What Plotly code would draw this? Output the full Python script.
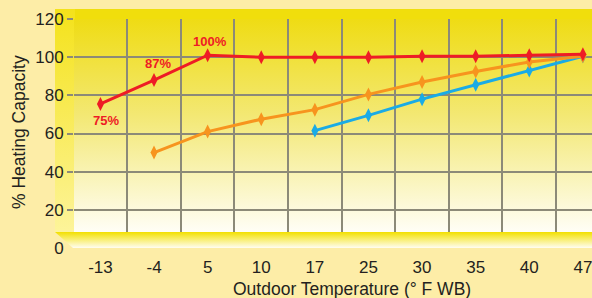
import base64
import plotly.graph_objects as go

# ---- data ----
temps = ["-13", "-4", "5", "10", "17", "25", "30", "35", "40", "47"]
red_vals = [75.5, 88, 101, 100, 100, 100, 100.5, 100.5, 101, 101.5]
orange_vals = [None, 50, 61, 67.5, 72.5, 80.5, 87, 92.5, 97.5, 100.5]
blue_vals = [None, None, None, None, 61.5, 69.5, 78, 85.5, 93, 100.5]
red_labels = ["75%", "87%", "100%"]
y_ticks = [0, 20, 40, 60, 80, 100, 120]

RED = "#EE1C25"
ORANGE = "#F7941E"
BLUE = "#1AABE6"
GRID = "#8C8A78"
TXT = "#231F20"
FONT = "Liberation Sans, Arial, sans-serif"

W, H = 592, 298
L, R, T, B = 74, 0, 19, 50
PW, PH = W - L - R, H - T - B


def svg_uri(body):
    svg = (f'<svg xmlns="http://www.w3.org/2000/svg" width="{W}" height="{H}" '
           f'viewBox="0 0 {W} {H}" preserveAspectRatio="none">{body}</svg>')
    return "data:image/svg+xml;base64," + base64.b64encode(svg.encode()).decode()


back_svg = svg_uri(
    '<defs>'
    '<linearGradient id="bk" x1="0" y1="0" x2="0" y2="1">'
    '<stop offset="0" stop-color="#EFDC14"/>'
    '<stop offset="0.45" stop-color="#F3E873"/>'
    '<stop offset="1" stop-color="#FFFEF6"/>'
    '</linearGradient>'
    '<linearGradient id="lw" x1="0" y1="0" x2="0" y2="1">'
    '<stop offset="0" stop-color="#F4E21A"/>'
    '<stop offset="1" stop-color="#FDF49A"/>'
    '</linearGradient>'
    '</defs>'
    f'<rect width="{W}" height="{H}" fill="#FDEDA7"/>'
    '<rect x="55" y="9" width="537" height="11" fill="#F0DE0C"/>'
    '<rect x="55" y="9" width="20" height="223" fill="url(#lw)"/>'
    '<rect x="74" y="19" width="518" height="213" fill="url(#bk)"/>'
)

floor_svg = svg_uri(
    '<defs>'
    '<linearGradient id="fl" x1="0" y1="0" x2="0" y2="1">'
    '<stop offset="0" stop-color="#F2DF00"/>'
    '<stop offset="0.3" stop-color="#F7EA4A"/>'
    '<stop offset="1" stop-color="#FFFDF2"/>'
    '</linearGradient>'
    '</defs>'
    '<rect x="64" y="245" width="12" height="6" fill="#FDEDA7"/>'
    '<polygon points="55,232 592,232 592,248 73,248" fill="url(#fl)"/>'
)

img_common = dict(xref="paper", yref="paper", x=-L / PW, y=(PH + T) / PH,
                  sizex=W / PW, sizey=H / PH, xanchor="left", yanchor="top",
                  sizing="stretch")

fig = go.Figure()
marker = dict(symbol="diamond-tall", size=10)
fig.add_trace(go.Scatter(x=temps, y=blue_vals, mode="lines+markers",
                         line=dict(color=BLUE, width=3), marker=dict(color=BLUE, **marker)))
fig.add_trace(go.Scatter(x=temps, y=orange_vals, mode="lines+markers",
                         line=dict(color=ORANGE, width=3), marker=dict(color=ORANGE, **marker)))
fig.add_trace(go.Scatter(x=temps, y=red_vals, mode="lines+markers",
                         line=dict(color=RED, width=3), marker=dict(color=RED, **marker)))

label_offsets = [(6, -17), (4, 17), (2, 14)]
annotations = []
for i, (txt, (dx, dy)) in enumerate(zip(red_labels, label_offsets)):
    annotations.append(dict(x=i, y=red_vals[i], text=f"<b>{txt}</b>",
                            showarrow=False, xshift=dx, yshift=dy,
                            font=dict(family=FONT, size=13, color=RED)))
annotations.append(dict(xref="paper", yref="paper", x=(352 - L) / PW, y=(T + PH - 289) / PH,
                        text="Outdoor Temperature (° F WB)", showarrow=False,
                        xanchor="center", yanchor="middle",
                        font=dict(family=FONT, size=17.5, color=TXT)))
annotations.append(dict(xref="paper", yref="paper", x=(19 - L) / PW, y=(T + PH - 132) / PH,
                        text="% Heating Capacity", showarrow=False, textangle=-90,
                        xanchor="center", yanchor="middle",
                        font=dict(family=FONT, size=17.5, color=TXT)))

fig.update_layout(
    width=W, height=H,
    margin=dict(l=L, r=R, t=T, b=B, autoexpand=False),
    paper_bgcolor="rgba(0,0,0,0)",
    plot_bgcolor="rgba(0,0,0,0)",
    showlegend=False,
    images=[dict(source=back_svg, layer="below", **img_common),
            dict(source=floor_svg, layer="above", **img_common)],
    annotations=annotations,
    xaxis=dict(type="category", categoryorder="array", categoryarray=temps,
               range=[-0.493, 9.17], tickson="boundaries", showgrid=True,
               gridcolor=GRID, gridwidth=2, ticks="", showline=False, zeroline=False,
               tickfont=dict(family=FONT, size=17, color=TXT), ticklabelstandoff=7,
               fixedrange=True),
    yaxis=dict(range=[0, 120], tickvals=y_ticks, showgrid=True, gridcolor=GRID,
               gridwidth=2, ticks="outside", ticklen=6, tickwidth=2, tickcolor=GRID,
               showline=False, zeroline=False,
               tickfont=dict(family=FONT, size=17, color=TXT), fixedrange=True),
)

fig.write_html("out.html", config={"displayModeBar": False},
               post_script="document.body.style.margin='0';document.body.style.background='#FDEDA7';")
